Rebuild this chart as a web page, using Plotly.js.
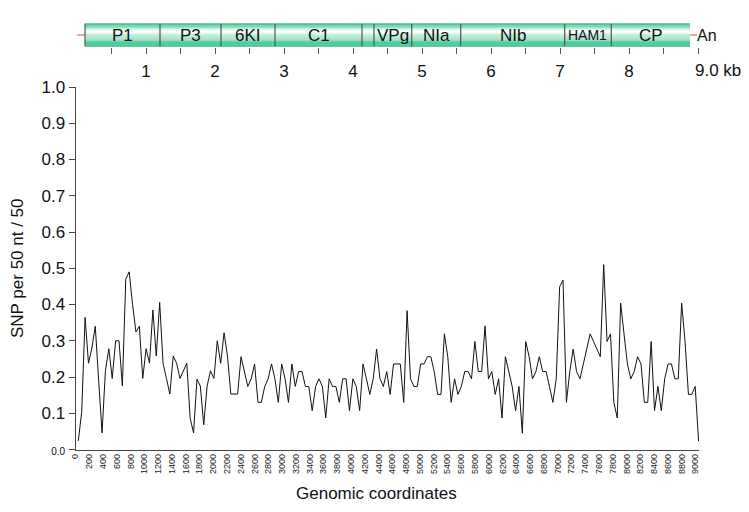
<!DOCTYPE html>
<html>
<head>
<meta charset="utf-8">
<script src="https://cdn.plot.ly/plotly-3.0.1.min.js"></script>
<style>html,body{margin:0;padding:0;background:#fff;}#chart{width:749px;height:512px;}</style>
</head>
<body>
<div id="chart"></div>
<script>
// ---- Data ----
// SNP density (SNP per 50 nt / 50) along the genome, sliding windows
const windowStart = 41;      // genomic coordinate of first window
const windowStep = 49.2;     // genomic step between windows
const snpDensity = [
  0.024, 0.104, 0.364, 0.238, 0.28, 0.34, 0.19, 0.046, 0.218, 0.278,
  0.196, 0.30, 0.30, 0.175, 0.47, 0.49, 0.40, 0.324, 0.34, 0.196,
  0.278, 0.238, 0.385, 0.258, 0.406, 0.238, 0.196, 0.153, 0.258, 0.238,
  0.196, 0.218, 0.238, 0.086, 0.046, 0.194, 0.175, 0.068, 0.175, 0.217,
  0.196, 0.30, 0.238, 0.322, 0.258, 0.153, 0.153, 0.153,
  0.256, 0.216, 0.174, 0.195, 0.236, 0.13, 0.13, 0.174, 0.195, 0.236,
  0.195, 0.13, 0.236, 0.195, 0.13, 0.236, 0.174, 0.215, 0.215, 0.174,
  0.174, 0.107, 0.174, 0.195, 0.174, 0.087, 0.195, 0.174, 0.174, 0.13,
  0.195, 0.195, 0.107, 0.195, 0.174, 0.107, 0.236, 0.195, 0.152, 0.195,
  0.277, 0.195, 0.174, 0.215, 0.152, 0.236, 0.236, 0.236,
  0.13, 0.383, 0.195, 0.174, 0.174, 0.236, 0.236, 0.256, 0.256, 0.215,
  0.152, 0.152, 0.319, 0.256, 0.13, 0.195, 0.152, 0.174, 0.215, 0.215,
  0.195, 0.298, 0.215, 0.215, 0.341, 0.195, 0.215, 0.152, 0.195, 0.087,
  0.256, 0.215, 0.174, 0.107, 0.174, 0.045, 0.298, 0.256, 0.195, 0.215,
  0.256, 0.215, 0.215, 0.174, 0.13, 0.195, 0.449,
  0.467, 0.13, 0.215, 0.277, 0.215, 0.195, 0.236, 0.277, 0.319, 0.298,
  0.277, 0.256, 0.51, 0.298, 0.319, 0.13, 0.087, 0.404, 0.319, 0.236,
  0.195, 0.215, 0.256, 0.236, 0.13, 0.13, 0.298, 0.107, 0.174, 0.107,
  0.195, 0.236, 0.236, 0.195, 0.195, 0.404, 0.298, 0.152, 0.152, 0.174,
  0.023
];
const genomicPos = snpDensity.map((v, i) => windowStart + i * windowStep);

const xTickVals = [0,200,400,600,800,1000,1200,1400,1600,1800,2000,2200,2400,2600,2800,3000,
  3200,3400,3600,3800,4000,4200,4400,4600,4800,5000,5200,5400,5600,5800,6000,6200,6400,6600,
  6800,7000,7200,7400,7600,7800,8000,8200,8400,8600,8800,9000];
const xTickText = xTickVals.map(String);
const yTickVals = [0,0.1,0.2,0.3,0.4,0.5,0.6,0.7,0.8,0.9,1.0];
const yTickText = ['<span style="font-size:10px">0.0</span>','0.1','0.2','0.3','0.4','0.5','0.6','0.7','0.8','0.9','1.0'];

// Genome map (nt)
const geneNames  = ['P1','P3','6KI','C1','6K2','VPg','NIa','NIb','HAM1','CP'];
const geneStarts = [116, 1203, 2087, 2870, 4130, 4304, 4851, 5561, 7068, 7743];
const geneEnds   = [1203, 2087, 2870, 4130, 4304, 4851, 5561, 7068, 7743, 8884];
const genomeEnd = 8986;
const kbTickVals = [500,1000,1500,2000,2500,3000,3500,4000,4500,5000,5500,6000,6500,7000,7500,8000,8500,9000];
const kbTickText = ['','1','','2','','3','','4','','5','','6','','7','','8','',''];

// ---- Figure ----
const FONT = 'Liberation Sans, Arial, Helvetica, sans-serif';
const W = 749, H = 512;
const px2fx = p => p / W;
const py2fy = p => (H - p) / H;

const traces = [{
  type: 'scatter', mode: 'lines',
  x: genomicPos, y: snpDensity,
  line: {color: '#111', width: 1},
  xaxis: 'x', yaxis: 'y', hoverinfo: 'x+y', cliponaxis: false
}];

// gradient bar as stacked bands
const shapes = [];
const N = 20;
const green = [28, 190, 128];
function mix(f) {
  const c = green.map(g => Math.round(255 + (g - 255) * f));
  return 'rgb(' + c.join(',') + ')';
}
const barStart = geneStarts[0], barEnd = geneEnds[geneEnds.length - 1];
for (let k = 0; k < N; k++) {
  const tTop = 1 - (k + 0.5) / N; // 0 top .. 1 bottom
  let f;
  if (tTop < 0.33) f = Math.pow((0.33 - tTop) / 0.33, 1.1);
  else f = Math.pow((tTop - 0.33) / 0.67, 0.95);
  shapes.push({type: 'rect', xref: 'x2', yref: 'y2', x0: barStart, x1: barEnd,
    y0: k / N, y1: (k + 1) / N, fillcolor: mix(f), line: {width: 0}, layer: 'below'});
}
// bar outline top/bottom
shapes.push({type: 'line', xref: 'x2', yref: 'y2', x0: barStart, x1: barEnd, y0: 1, y1: 1, line: {color: 'rgb(25,170,115)', width: 1.5}});
shapes.push({type: 'line', xref: 'x2', yref: 'y2', x0: barStart, x1: barEnd, y0: 0, y1: 0, line: {color: 'rgb(25,170,115)', width: 1.5}});
// dividers
const divs = [barStart].concat(geneEnds.slice(0, -1));
divs.forEach(d => shapes.push({type: 'line', xref: 'x2', yref: 'y2', x0: d, x1: d, y0: 0, y1: 1,
  line: {color: '#555', width: 1.2}}));
// red flanking lines
shapes.push({type: 'line', xref: 'x2', yref: 'y2', x0: 0, x1: barStart, y0: 0.5, y1: 0.5, line: {color: '#e04848', width: 1}});
shapes.push({type: 'line', xref: 'x2', yref: 'y2', x0: barEnd, x1: genomeEnd, y0: 0.5, y1: 0.5, line: {color: '#e04848', width: 1}});

const annotations = [];
geneNames.forEach((g, i) => {
  const mid = (geneStarts[i] + geneEnds[i]) / 2;
  if (g === '6K2') {
    annotations.push({text: g, xref: 'x2', yref: 'y2', x: mid, y: 1.6, showarrow: false,
      font: {family: FONT, size: 14, color: '#111'}, xanchor: 'center', yanchor: 'middle'});
  } else {
    annotations.push({text: g, xref: 'x2', yref: 'y2', x: mid, y: 0.5, showarrow: false,
      font: {family: FONT, size: g === 'HAM1' ? 14 : 17, color: '#111'}, xanchor: 'center', yanchor: 'middle'});
  }
});
annotations.push({text: 'An', xref: 'x2', yref: 'y2', x: genomeEnd, y: 0.5, showarrow: false,
  font: {family: FONT, size: 16, color: '#111'}, xanchor: 'left', yanchor: 'middle', xshift: -2});
annotations.push({text: '9.0 kb', xref: 'x2', yref: 'paper', x: 9000, y: py2fy(70), showarrow: false,
  font: {family: FONT, size: 17, color: '#111'}, xanchor: 'left', yanchor: 'middle', xshift: -5});
annotations.push({text: 'Genomic coordinates', xref: 'paper', yref: 'paper', x: px2fx(376), y: py2fy(493),
  showarrow: false, font: {family: FONT, size: 17, color: '#111'}, xanchor: 'center', yanchor: 'middle'});

const layout = {
  width: W, height: H,
  margin: {l: 0, r: 0, t: 0, b: 0},
  paper_bgcolor: '#fff', plot_bgcolor: '#fff',
  showlegend: false,
  font: {family: FONT, color: '#111'},
  xaxis: {
    domain: [px2fx(75.5), px2fx(699)], range: [0, 9050.5], anchor: 'y',
    tickmode: 'array', tickvals: xTickVals, ticktext: xTickText, tickangle: -90,
    tickfont: {family: FONT, size: 9, color: '#222'}, ticks: '',
    showline: true, linecolor: '#444', linewidth: 1, showgrid: false, zeroline: false
  },
  yaxis: {
    domain: [py2fy(449.5), py2fy(87)], range: [0, 1], anchor: 'x',
    tickmode: 'array', tickvals: yTickVals, ticktext: yTickText,
    ticks: 'outside', ticklen: 6, tickcolor: '#444', tickwidth: 1,
    tickfont: {family: FONT, size: 17, color: '#111'},
    showline: true, linecolor: '#444', linewidth: 1, showgrid: false, zeroline: false,
    title: {text: 'SNP per 50 nt / 50', font: {family: FONT, size: 17, color: '#111'}, standoff: 13}
  },
  xaxis2: {
    domain: [px2fx(75.5), px2fx(699)], range: [-21.7, 9014.5], anchor: 'y2',
    tickmode: 'array', tickvals: kbTickVals, ticktext: kbTickText,
    ticks: 'outside', ticklen: 6, tickcolor: '#555', tickwidth: 1,
    tickfont: {family: FONT, size: 17, color: '#111'}, ticklabelstandoff: 3,
    showline: false, showgrid: false, zeroline: false
  },
  yaxis2: {
    domain: [py2fy(46.5), py2fy(23.5)], range: [0, 1], anchor: 'x2',
    visible: false, showgrid: false, zeroline: false
  },
  shapes: shapes,
  annotations: annotations
};

Plotly.newPlot('chart', traces, layout, {staticPlot: true, displayModeBar: false});
</script>
</body>
</html>
